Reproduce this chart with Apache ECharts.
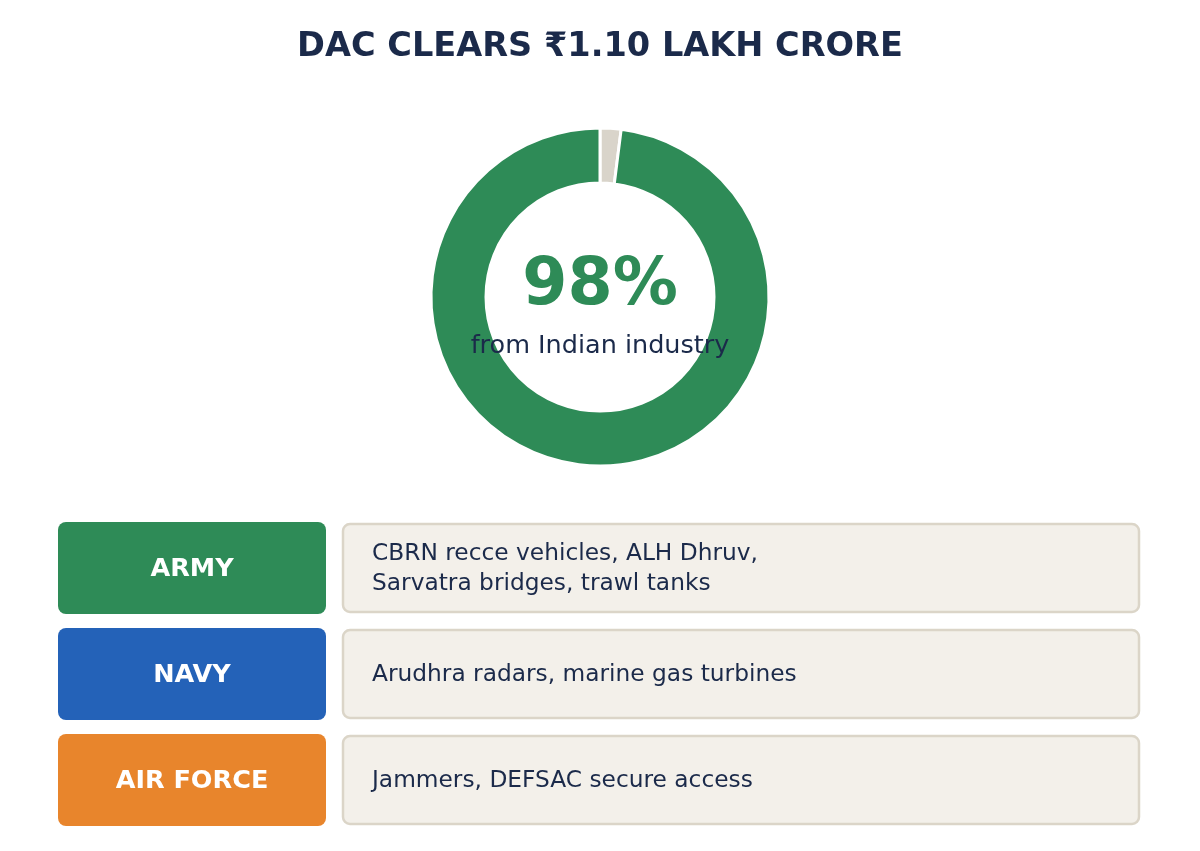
<!DOCTYPE html>
<html>
<head>
<meta charset="utf-8">
<script src="https://cdn.jsdelivr.net/npm/echarts@6/dist/echarts.min.js"></script>
<style>
  html, body { margin: 0; padding: 0; background: #fff; }
  #chart { width: 1200px; height: 851px; }
</style>
</head>
<body>
<div id="chart"></div>
<script>
// donut share
const shareNames = ['Foreign', 'Indian industry'];
const shareValues = [2, 98];
const shareColors = ['#d9d4ca', '#2e8b57'];

// service rows
const services = ['ARMY', 'NAVY', 'AIR FORCE'];
const serviceColors = ['#2e8b57', '#2462b8', '#e8852c'];
const serviceItems = [
    'CBRN recce vehicles, ALH Dhruv,\nSarvatra bridges, trawl tanks',
    'Arudhra radars, marine gas turbines',
    'Jammers, DEFSAC secure access'
];

const navy = '#1b2a4a';
const font = "'DejaVu Sans', sans-serif";

const chart = echarts.init(document.getElementById('chart'));

// build the card rows
const rowTop = 522, rowStep = 106, rowHeight = 92;
const cards = [];
services.forEach((name, i) => {
    const y = rowTop + i * rowStep;
    cards.push({
        type: 'rect',
        shape: { x: 58, y: y, width: 268, height: rowHeight, r: 8 },
        style: { fill: serviceColors[i] }
    });
    cards.push({
        type: 'text',
        x: 192, y: y + rowHeight / 2 + 1,
        style: {
            text: name, fill: '#fff', font: 'bold 25.5px ' + font,
            align: 'center', verticalAlign: 'middle'
        }
    });
    cards.push({
        type: 'rect',
        shape: { x: 343, y: y + 2, width: 796, height: rowHeight - 4, r: 7 },
        style: { fill: '#f3f0ea', stroke: '#dbd5c8', lineWidth: 2.5 }
    });
    cards.push({
        type: 'text',
        x: 372, y: y + rowHeight / 2 + 1,
        style: {
            text: serviceItems[i], fill: navy, font: '23.3px ' + font,
            lineHeight: 30, align: 'left', verticalAlign: 'middle'
        }
    });
});

const option = {
    backgroundColor: '#fff',
    animation: false,
    title: {
        text: 'DAC CLEARS ₹1.10 LAKH CRORE',
        left: 'center',
        top: 25,
        textStyle: { color: navy, fontSize: 33.6, fontWeight: 'bold', fontFamily: font }
    },
    series: [{
        type: 'pie',
        center: [600, 297],
        radius: [114, 169],
        startAngle: 90,
        clockwise: true,
        silent: true,
        z: 1,
        label: { show: false },
        labelLine: { show: false },
        itemStyle: { borderColor: '#fff', borderWidth: 3 },
        data: shareNames.map((n, i) => ({
            name: n, value: shareValues[i], itemStyle: { color: shareColors[i] }
        }))
    }],
    graphic: {
        elements: [
            {
                type: 'text',
                x: 600, y: 287,
                z: 100,
                style: {
                    text: '98%', fill: '#2e8b57', font: 'bold 65px ' + font,
                    align: 'center', verticalAlign: 'middle'
                }
            },
            {
                type: 'text',
                x: 600, y: 346,
                z: 100,
                style: {
                    text: 'from Indian industry', fill: navy, font: '25.5px ' + font,
                    align: 'center', verticalAlign: 'middle'
                }
            }
        ].concat(cards)
    }
};

chart.setOption(option);
</script>
</body>
</html>
